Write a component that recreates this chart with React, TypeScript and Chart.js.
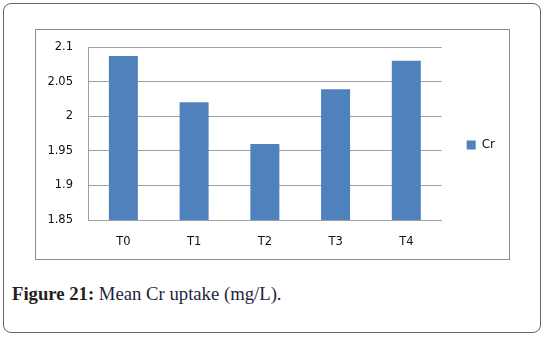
import React, { useEffect, useRef } from "react";
import { Chart, registerables } from "chart.js";

Chart.register(...registerables);

const categories = ["T0", "T1", "T2", "T3", "T4"];
const crValues = [2.087, 2.02, 1.96, 2.039, 2.08];
const seriesName = "Cr";
const yMin = 1.85;
const yMax = 2.1;
const yStep = 0.05;

export default function App() {
  const canvasRef = useRef<HTMLCanvasElement | null>(null);

  useEffect(() => {
    const ctx = canvasRef.current;
    if (!ctx) return;
    const font = { family: "'DejaVu Sans', sans-serif", size: 11.5 };
    const chart = new Chart(ctx, {
      type: "bar",
      data: {
        labels: categories,
        datasets: [
          {
            label: seriesName,
            data: crValues,
            backgroundColor: "#4f81bd",
            borderWidth: 0,
            barPercentage: 0.41,
            categoryPercentage: 1,
          },
        ],
      },
      options: {
        animation: false,
        responsive: false,
        maintainAspectRatio: false,
        layout: { padding: { left: 0, right: 4, top: 17, bottom: 16 } },
        plugins: {
          tooltip: { enabled: false },
          legend: {
            position: "right",
            labels: {
              boxWidth: 9,
              boxHeight: 9,
              color: "#111",
              font: { family: "'DejaVu Sans', sans-serif", size: 12 },
              padding: 25,
            },
          },
        },
        scales: {
          x: {
            grid: { display: false, drawTicks: false },
            border: { display: true, color: "#a0a0a0", width: 1 },
            ticks: { color: "#111", font, padding: 15 },
            afterFit: (scale: any) => {
              scale.height = 23;
              scale._computeLabelArea = () => undefined;
            },
          },
          y: {
            min: yMin,
            max: yMax,
            grid: { color: "#a0a0a0", drawTicks: false, lineWidth: 1 },
            border: { display: true, color: "#a0a0a0", width: 1 },
            ticks: {
              stepSize: yStep,
              color: "#111",
              font,
              padding: 15,
              callback: (v: any) => String(Number(Number(v).toFixed(2))),
            },
            afterFit: (scale: any) => {
              scale.width = 52;
              scale.paddingTop = 0;
              scale.paddingBottom = 0;
            },
          },
        },
      },
    });
    return () => chart.destroy();
  }, []);

  return (
    <div>
      <div
        style={{
          position: "fixed",
          left: 3,
          top: 3,
          width: 538,
          height: 330,
          border: "1.5px solid #666",
          borderRadius: 8,
          boxSizing: "border-box",
          background: "#fff",
        }}
      />
      <div
        style={{
          position: "fixed",
          left: 35,
          top: 29,
          width: 475,
          height: 231,
          border: "1px solid #8c8c8c",
          boxSizing: "border-box",
          background: "#fff",
        }}
      >
        <canvas ref={canvasRef} width={473} height={229} style={{ display: "block" }} />
      </div>
      <div
        style={{
          position: "fixed",
          left: 12,
          top: 283,
          fontFamily: "'Liberation Serif', 'DejaVu Serif', serif",
          fontSize: 18.7,
          color: "#1f1f3f",
          whiteSpace: "nowrap",
          lineHeight: "21px",
        }}
      >
        <b style={{ color: "#231f20" }}>Figure 21:</b> Mean Cr uptake (mg/L).
      </div>
    </div>
  );
}
